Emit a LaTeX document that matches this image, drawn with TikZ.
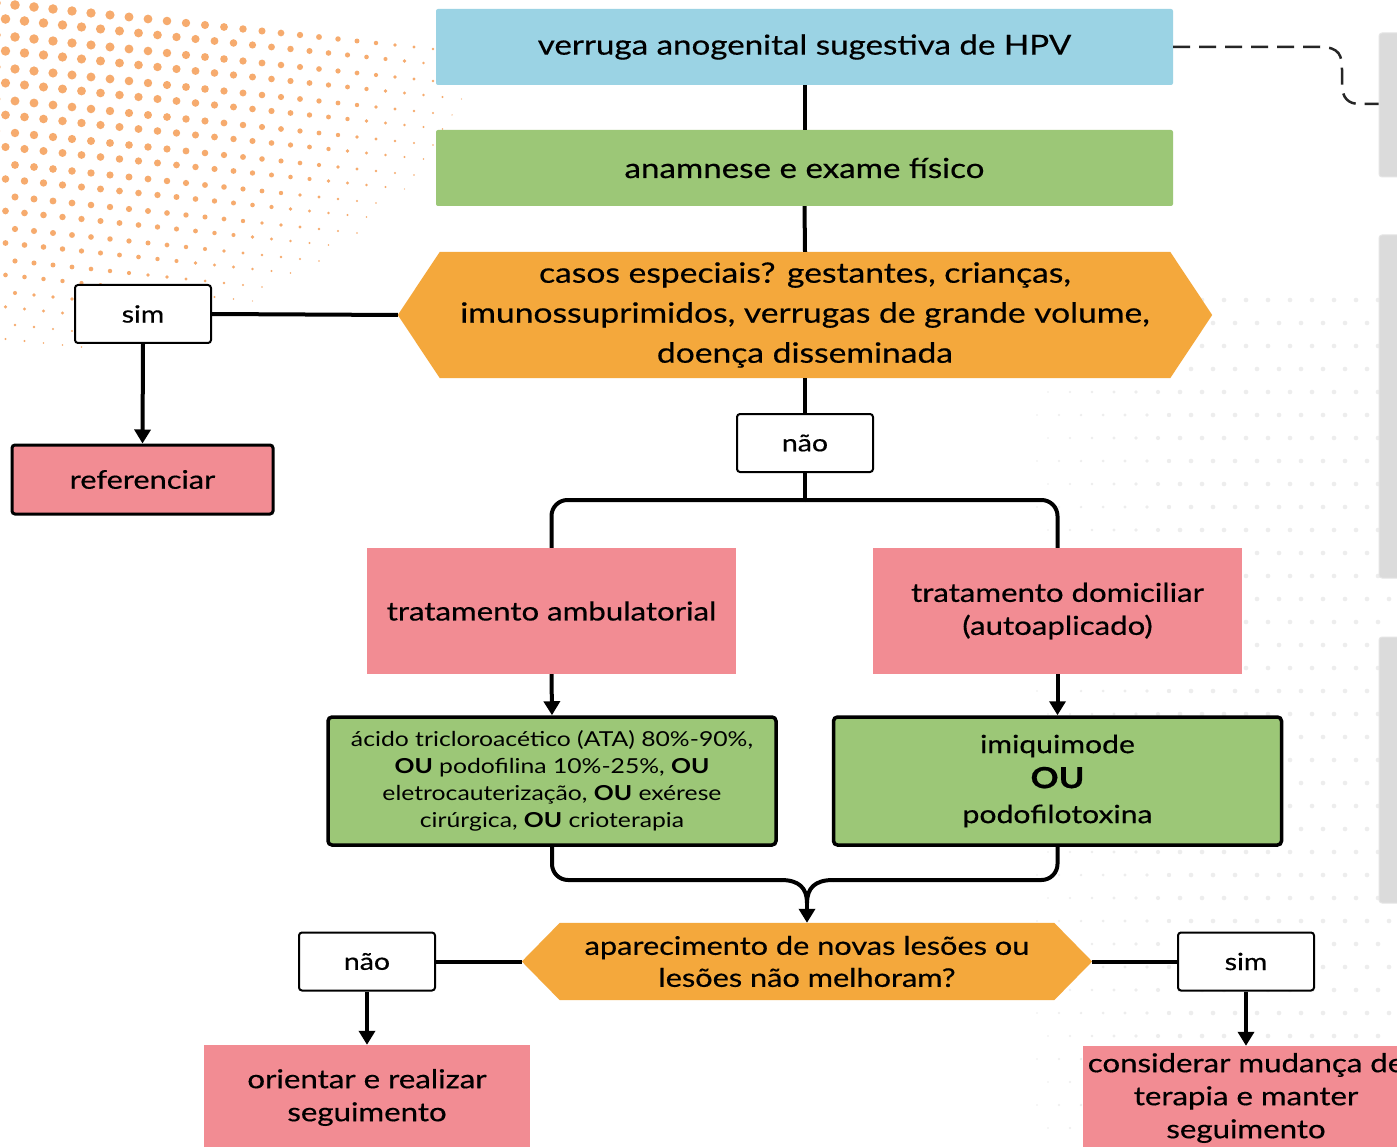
\documentclass[tikz,border=0pt]{standalone}
\usepackage{fontspec}
\setmainfont{Lato}[FakeStretch=1.2,FakeBold=0.5]
\newfontfamily\lightf{Lato}[FakeStretch=1.2]
\usetikzlibrary{arrows.meta,calc}
\definecolor{cblue}{HTML}{9BD3E4}
\definecolor{cgreen}{HTML}{9CC777}
\definecolor{corange}{HTML}{F4A83C}
\definecolor{cpink}{HTML}{F28C93}
\definecolor{cgray}{HTML}{DBDBDB}
\definecolor{cdot}{HTML}{F6AB6E}
\definecolor{cgdot}{HTML}{EDEDED}
\pgfdeclarelayer{dotlayer}
\pgfdeclarelayer{hexlayer}
\pgfsetlayers{dotlayer,hexlayer,main}
\newcommand\myFT{\fontsize{27.6}{34}\selectfont}
\newcommand\myFH{\fontsize{28}{40}\selectfont}
\newcommand\myFB{\fontsize{26}{33}\selectfont}
\newcommand\myFS{\lightf\fontsize{20.6}{27}\selectfont}
\newcommand\myFI{\fontsize{25.1}{35}\selectfont}
\newcommand\myFG{\fontsize{23.7}{30}\selectfont}
\newcommand\myFQ{\fontsize{25.6}{32}\selectfont}
\begin{document}
\begin{tikzpicture}[x=1pt,y=-1pt,
  plain/.style={inner sep=0pt, align=center, text=black},
  topbox/.style={plain, fill=#1, rounded corners=2pt, minimum width=737pt, minimum height=76pt, font=\myFT},
  hexnode/.style={plain},
  pinkbox/.style={plain, fill=cpink, minimum width=369pt, minimum height=126pt, font=\myFB},
  greenbox/.style={plain, fill=cgreen, draw=black, line width=3.5pt, rounded corners=4pt, minimum width=448pt, minimum height=128pt},
  tagbox/.style={plain, fill=white, draw=black, line width=2pt, rounded corners=3pt, minimum width=136pt, minimum height=58pt, font=\myFG},
  grayb/.style={plain, fill=cgray, draw=black!10, line width=1pt, rounded corners=3pt, minimum width=24pt},
  conn/.style={line width=4pt},
  arr/.style={conn, -{Triangle[length=14pt,width=16pt]}},
  dashln/.style={line width=2.5pt, black!85, dash pattern=on 17pt off 9pt}
]
\useasboundingbox (0,0) rectangle (1397,1147);
\clip (0,0) rectangle (1397,1147);

% background and dots
\begin{pgfonlayer}{dotlayer}
\fill[white] (0,0) rectangle (1397,1147);
\foreach \j in {0,...,24}{
  \foreach \i in {0,...,25}{
    \pgfmathsetmacro{\xx}{\i*19 + mod(\j,2)*9.5 - 4}
    \pgfmathsetmacro{\yy}{\j*16 + 3 + \i*2}
    \pgfmathsetmacro{\dd}{veclen(\xx, 1.35*\yy)/520}
    \pgfmathsetmacro{\rr}{4.8*(1 - \dd*\dd)}
    \ifdim\rr pt>0.7pt
      \fill[cdot] (\xx,\yy) circle[radius=\rr pt];
    \fi
  }
}
\foreach \j in {0,...,36}{
  \foreach \i in {0,...,20}{
    \pgfmathsetmacro{\xx}{960 + \i*22 + mod(\j,2)*11}
    \pgfmathsetmacro{\yy}{300 + \j*23}
    \pgfmathsetmacro{\rr}{2.3*min(1,(\xx-960)/220)}
    \ifdim\rr pt>0.7pt
      \fill[cgdot] (\xx,\yy) circle[radius=\rr pt];
    \fi
  }
}
\end{pgfonlayer}

% right gray panels
\node[grayb, minimum height=144pt] (g1) at (1391,105) {};
\node[grayb, minimum height=343pt] (g2) at (1391,406.5) {};
\node[grayb, minimum height=266pt] (g3) at (1391,770) {};

% main nodes
\node[topbox=cblue] (hpv) at (804.5,47) {verruga anogenital sugestiva de HPV};
\node[topbox=cgreen] (anam) at (804.5,168) {anamnese e exame físico};
\node[hexnode, minimum width=814pt, minimum height=126pt, font=\myFH] (casos) at (805,315)
  {casos especiais? gestantes, crianças,\\imunossuprimidos, verrugas de grande volume,\\doença disseminada};
\node[tagbox] (sim1) at (143,314) {sim};
\node[plain, fill=cpink, draw=black, line width=3pt, rounded corners=3pt, minimum width=261pt, minimum height=69pt, font=\myFQ] (ref) at (142.5,479.5) {referenciar};
\node[tagbox] (nao1) at (805,443) {não};
\node[pinkbox] (amb) at (551.5,611) {tratamento ambulatorial};
\node[pinkbox] (dom) at (1057.5,611) {tratamento domiciliar\\(autoaplicado)};
\node[greenbox, font=\myFS] (ata) at (552,781)
  {ácido tricloroacético (ATA) 80\%-90\%,\\\textbf{OU} podofilina 10\%-25\%, \textbf{OU}\\eletrocauterização, \textbf{OU} exérese\\cirúrgica, \textbf{OU} crioterapia};
\node[greenbox, font=\myFI] (imi) at (1057.5,781)
  {imiquimode\\{\fontsize{29}{35}\selectfont\textbf{OU}}\\podofilotoxina};
\node[hexnode, minimum width=570pt, minimum height=77pt, font=\myFQ] (apar) at (807,961.5)
  {aparecimento de novas lesões ou\\lesões não melhoram?};
\node[tagbox] (nao2) at (367,961.5) {não};
\node[tagbox] (sim2) at (1246,961.5) {sim};
\node[plain, fill=cpink, minimum width=326pt, minimum height=105pt, font=\fontsize{26}{33}\selectfont] (ori) at (367,1097.5)
  {orientar e realizar\\seguimento};
\node[plain, fill=cpink, minimum width=326pt, minimum height=104pt, font=\fontsize{26}{33}\selectfont] (cons) at (1246,1098)
  {considerar mudança de\\terapia e manter\\seguimento};

% hexagon fills
\begin{pgfonlayer}{hexlayer}
\fill[corange] (casos.west) -- ($(casos.north west)+(42,0)$) -- ($(casos.north east)+(-42,0)$)
  -- (casos.east) -- ($(casos.south east)+(-42,0)$) -- ($(casos.south west)+(42,0)$) -- cycle;
\fill[corange] (apar.west) -- ($(apar.north west)+(38,0)$) -- ($(apar.north east)+(-38,0)$)
  -- (apar.east) -- ($(apar.south east)+(-38,0)$) -- ($(apar.south west)+(38,0)$) -- cycle;
\end{pgfonlayer}

% connectors
\draw[dashln] (hpv.east) -- (1320,47) .. controls (1340,47) and (1342,56) .. (1342,70)
  -- (1342,84) .. controls (1342,98) and (1348,104) .. (1360,104) -- (g1.west |- 0,104);
\draw[conn] (hpv.south) -- (anam.north);
\draw[conn] (anam.south) -- (casos.north);
\draw[conn] (sim1.east) -- (casos.west);
\draw[arr] (sim1.south) -- (ref.north);
\draw[conn] (casos.south) -- (nao1.north);
\coordinate (split) at (805,500);
\draw[conn] (nao1.south) -- (split);
\draw[conn, rounded corners=16pt] (split) -| (amb.north);
\draw[conn, rounded corners=16pt] (split) -| (dom.north);
\draw[arr] (amb.south) -- (ata.north);
\draw[arr] (dom.south) -- (imi.north);
\coordinate (mL) at (781,880);
\coordinate (mR) at (833,880);
\coordinate (mC) at (807,903);
\draw[conn, rounded corners=16pt] (ata.south) |- (mL);
\draw[conn, rounded corners=16pt] (imi.south) |- (mR);
\draw[conn] (mL) .. controls (799,880) and (807,888) .. (mC);
\draw[conn] (mR) .. controls (815,880) and (807,888) .. (mC);
\draw[arr] (mC) -- (apar.north);
\draw[conn] (apar.west) -- (nao2.east);
\draw[arr] (nao2.south) -- (ori.north);
\draw[conn] (apar.east) -- (sim2.west);
\draw[arr] (sim2.south) -- (cons.north);
\end{tikzpicture}
\end{document}
